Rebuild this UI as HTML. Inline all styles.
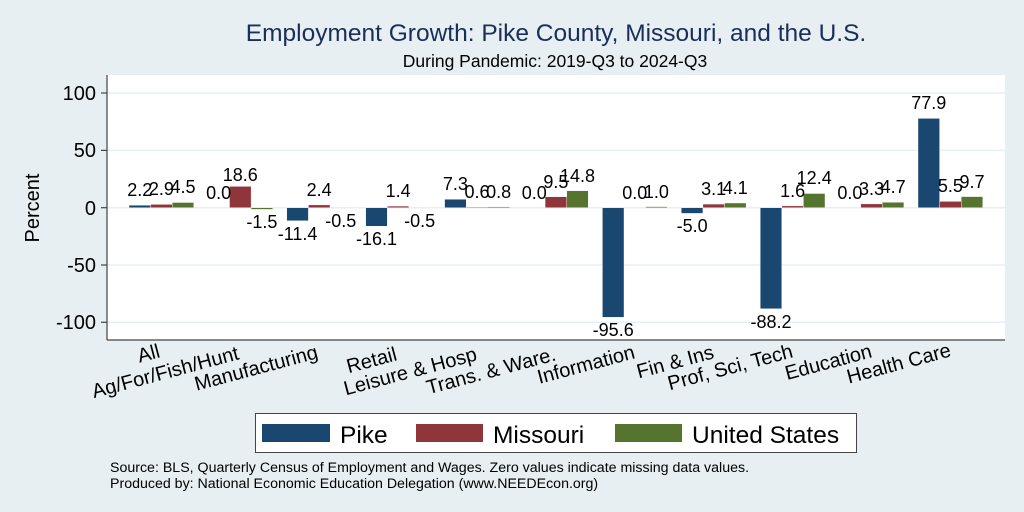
<!DOCTYPE html>
<html><head><meta charset="utf-8"><style>
body{margin:0;background:#e8eff2;}
svg{display:block;font-family:"Liberation Sans",Arial,sans-serif;}
</style></head><body>
<svg width="1024" height="512" viewBox="0 0 1024 512" xmlns="http://www.w3.org/2000/svg">
<rect width="1024" height="512" fill="#e8eff2"/>
<text x="556" y="41" font-size="24.5" fill="#1a2e5a" text-anchor="middle">Employment Growth: Pike County, Missouri, and the U.S.</text>
<text x="555" y="67" font-size="17.5" fill="#000" text-anchor="middle">During Pandemic: 2019-Q3 to 2024-Q3</text>
<rect x="107" y="75" width="898" height="265" fill="#fff"/>
<g stroke="#e8eff2" stroke-width="1.5">
<line x1="107" x2="1005" y1="93" y2="93"/><line x1="107" x2="1005" y1="150.4" y2="150.4"/>
<line x1="107" x2="1005" y1="207.7" y2="207.7"/><line x1="107" x2="1005" y1="265" y2="265"/>
<line x1="107" x2="1005" y1="322.3" y2="322.3"/>
</g>
<g stroke="#444" stroke-width="1.2">
<line x1="107" x2="107" y1="75" y2="340"/><line x1="107" x2="1005" y1="340" y2="340"/>
<line x1="101" x2="107" y1="93" y2="93"/><line x1="101" x2="107" y1="150.4" y2="150.4"/>
<line x1="101" x2="107" y1="207.7" y2="207.7"/><line x1="101" x2="107" y1="265" y2="265"/>
<line x1="101" x2="107" y1="322.3" y2="322.3"/>
</g>
<g font-size="20" text-anchor="end" fill="#000">
<text x="96" y="100">100</text><text x="96" y="157">50</text><text x="96" y="215">0</text>
<text x="96" y="272">-50</text><text x="96" y="329">-100</text>
</g>
<text transform="translate(39,208) rotate(-90)" font-size="20" text-anchor="middle">Percent</text>
<g stroke="#fff" stroke-width="0.4">
<g fill="#1a476f">
<rect x="129" y="205.2" width="21.6" height="2.5"/>
<rect x="286.8" y="207.7" width="21.6" height="13.1"/>
<rect x="365.7" y="207.7" width="21.6" height="18.5"/>
<rect x="444.6" y="199.3" width="21.6" height="8.4"/>
<rect x="602.4" y="207.7" width="21.6" height="109.6"/>
<rect x="681.3" y="207.7" width="21.6" height="5.7"/>
<rect x="760.2" y="207.7" width="21.6" height="101.1"/>
<rect x="918" y="118.4" width="21.6" height="89.3"/>
</g>
<g fill="#90353b">
<rect x="150.6" y="204.4" width="21.6" height="3.3"/>
<rect x="229.5" y="186.4" width="21.6" height="21.3"/>
<rect x="308.4" y="204.9" width="21.6" height="2.8"/>
<rect x="387.3" y="206.1" width="21.6" height="1.6"/>
<rect x="466.2" y="207" width="21.6" height="0.7"/>
<rect x="545.1" y="196.8" width="21.6" height="10.9"/>
<rect x="702.9" y="204.1" width="21.6" height="3.6"/>
<rect x="781.8" y="205.9" width="21.6" height="1.8"/>
<rect x="860.7" y="203.9" width="21.6" height="3.8"/>
<rect x="939.6" y="201.4" width="21.6" height="6.3"/>
</g>
<g fill="#55752f">
<rect x="172.2" y="202.5" width="21.6" height="5.2"/>
<rect x="251.1" y="207.7" width="21.6" height="1.7"/>
<rect x="330" y="207.7" width="21.6" height="0.6"/>
<rect x="408.9" y="207.7" width="21.6" height="0.6"/>
<rect x="487.8" y="206.8" width="21.6" height="0.9"/>
<rect x="566.7" y="190.7" width="21.6" height="17"/>
<rect x="645.6" y="206.6" width="21.6" height="1.1"/>
<rect x="724.5" y="203" width="21.6" height="4.7"/>
<rect x="803.4" y="193.5" width="21.6" height="14.2"/>
<rect x="882.3" y="202.3" width="21.6" height="5.4"/>
<rect x="961.2" y="196.6" width="21.6" height="11.1"/>
</g>
</g>
<g font-size="18" text-anchor="middle" fill="#000">
<text x="139.8" y="196">2.2</text><text x="161.4" y="195">2.9</text><text x="183" y="193">4.5</text>
<text x="218.7" y="199">0.0</text><text x="240.3" y="181">18.6</text><text x="261.9" y="228">-1.5</text>
<text x="297.6" y="240">-11.4</text><text x="319.2" y="196">2.4</text><text x="340.8" y="227">-0.5</text>
<text x="376.5" y="245">-16.1</text><text x="398.1" y="197">1.4</text><text x="419.7" y="227">-0.5</text>
<text x="455.4" y="190">7.3</text><text x="477" y="198">0.6</text><text x="498.6" y="198">0.8</text>
<text x="534.3" y="199">0.0</text><text x="555.9" y="188">9.5</text><text x="577.5" y="182">14.8</text>
<text x="613.2" y="336">-95.6</text><text x="634.8" y="199">0.0</text><text x="656.4" y="198">1.0</text>
<text x="692.1" y="232">-5.0</text><text x="713.7" y="195">3.1</text><text x="735.3" y="194">4.1</text>
<text x="771" y="328">-88.2</text><text x="792.6" y="197">1.6</text><text x="814.2" y="184">12.4</text>
<text x="849.9" y="199">0.0</text><text x="871.5" y="195">3.3</text><text x="893.1" y="193">4.7</text>
<text x="928.8" y="109">77.9</text><text x="950.4" y="192">5.5</text><text x="972" y="188">9.7</text>
</g>
<g font-size="20" text-anchor="end" fill="#000">
<text transform="translate(161,357) rotate(-15)">All</text>
<text transform="translate(240,359) rotate(-15)">Ag/For/Fish/Hunt</text>
<text transform="translate(319,358) rotate(-15)">Manufacturing</text>
<text transform="translate(398,360) rotate(-15)">Retail</text>
<text transform="translate(478,360) rotate(-15)">Leisure &amp; Hosp</text>
<text transform="translate(557,360) rotate(-15)">Trans. &amp; Ware.</text>
<text transform="translate(636,358) rotate(-15)">Information</text>
<text transform="translate(715,358) rotate(-15)">Fin &amp; Ins</text>
<text transform="translate(794,357) rotate(-15)">Prof, Sci, Tech</text>
<text transform="translate(873,357) rotate(-15)">Education</text>
<text transform="translate(952,356) rotate(-15)">Health Care</text>
</g>
<rect x="255.5" y="413.5" width="601" height="39" fill="#fff" stroke="#444" stroke-width="1"/>
<rect x="262" y="424" width="68" height="18" fill="#1a476f"/>
<rect x="416" y="424" width="67" height="18" fill="#90353b"/>
<rect x="615" y="424" width="67" height="18" fill="#55752f"/>
<g font-size="24.5" fill="#000">
<text x="340" y="443">Pike</text><text x="493" y="443">Missouri</text><text x="692" y="443">United States</text>
</g>
<g font-size="14.2" fill="#000">
<text x="110" y="472">Source: BLS, Quarterly Census of Employment and Wages. Zero values indicate missing data values.</text>
<text x="110" y="488">Produced by: National Economic Education Delegation (www.NEEDEcon.org)</text>
</g>
</svg>
</body></html>
